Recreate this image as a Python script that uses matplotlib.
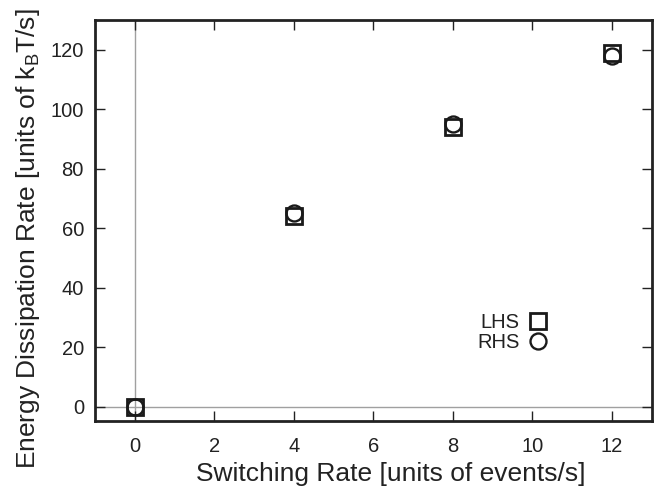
import matplotlib
matplotlib.use("Agg")
import matplotlib.pyplot as plt

plt.rcParams['font.family'] = ['Liberation Sans', 'DejaVu Sans']

switching_rate = [0, 4, 8, 12]
lhs_values = [0, 64, 94, 119]
rhs_values = [0, 65, 95, 118]
xticks = [0, 2, 4, 6, 8, 10, 12]
yticks = [0, 20, 40, 60, 80, 100, 120]

fig = plt.figure(figsize=(6.62, 4.95), dpi=100)
ax = fig.add_axes([0.1435, 0.1485, 0.841, 0.8111])

ax.axhline(0, color='#a0a0a0', lw=1.0, zorder=1)
ax.axvline(0, color='#a0a0a0', lw=1.0, zorder=1)

ax.plot(switching_rate, lhs_values, linestyle='none', marker='s', markersize=11.5,
        markerfacecolor='none', markeredgecolor='#1a1a1a', markeredgewidth=2.0,
        label='LHS', zorder=3)
ax.plot(switching_rate, rhs_values, linestyle='none', marker='o', markersize=11.5,
        markerfacecolor='none', markeredgecolor='#1a1a1a', markeredgewidth=1.7,
        label='RHS', zorder=3)

ax.set_xlim(-1, 13)
ax.set_ylim(-5, 130)
ax.set_xticks(xticks)
ax.set_yticks(yticks)
ax.tick_params(axis='both', direction='in', length=7, width=1.0, color='#222222',
               labelsize=14.5, labelcolor='#222222', top=True, right=True)
ax.tick_params(axis='x', pad=11)
ax.tick_params(axis='y', pad=8)
for s in ax.spines.values():
    s.set_linewidth(2.0)
    s.set_color('#222222')

ax.set_xlabel('Switching Rate [units of events/s]', fontsize=19, color='#222222')
ax.set_ylabel(r'Energy Dissipation Rate [units of k$_\mathregular{B}$T/s]', fontsize=19,
              color='#222222')
ax.xaxis.set_label_coords(0.532, -0.100)
ax.yaxis.set_label_coords(-0.095, 0.4545)

ax.legend(loc='center right', bbox_to_anchor=(0.831, 0.222), frameon=False,
          markerfirst=False, fontsize=14.5, handlelength=1.0, handletextpad=0.4,
          labelspacing=0.05, borderpad=0, labelcolor='#222222')

fig.savefig('out.png', dpi=100)
